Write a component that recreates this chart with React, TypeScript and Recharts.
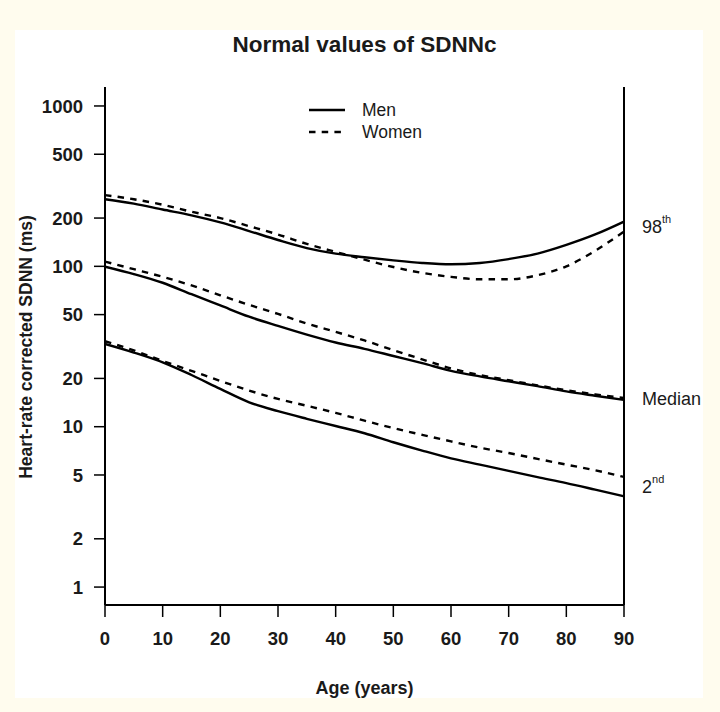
import { LineChart, Line, XAxis, YAxis, Legend } from "recharts";

const ages = [0, 5, 10, 15, 20, 25, 30, 35, 40, 45, 50, 55, 60, 65, 70, 75, 80, 85, 90];

// SDNNc percentiles (ms)
const men98 = [262, 246, 226, 208, 188, 166, 146, 130, 120, 114, 109, 105, 103, 105, 111, 120, 136, 158, 190];
const women98 = [278, 262, 242, 219, 200, 178, 158, 138, 123, 110, 99, 91, 86, 83, 83, 88, 100, 125, 165];
const menMedian = [99.5, 89.5, 79, 67, 57, 48.5, 42.5, 37.5, 33.5, 30.6, 27.6, 24.9, 22.3, 20.6, 19.2, 17.9, 16.6, 15.6, 14.7];
const womenMedian = [107, 96, 86, 76, 66, 57.5, 50.5, 44, 39, 34.5, 30, 26.3, 23.1, 21, 19.5, 18.1, 16.9, 15.9, 15.1];
const men2 = [32.8, 29, 25.2, 21, 17.2, 14.2, 12.5, 11.2, 10.1, 9.1, 8.0, 7.1, 6.35, 5.8, 5.3, 4.85, 4.45, 4.05, 3.68];
const women2 = [34.1, 29.9, 25.7, 22.3, 19.3, 16.8, 14.9, 13.5, 12.2, 10.9, 9.8, 8.9, 8.1, 7.4, 6.85, 6.3, 5.8, 5.35, 4.86];

const xTicks = [0, 10, 20, 30, 40, 50, 60, 70, 80, 90];
const yTicks = [1, 2, 5, 10, 20, 50, 100, 200, 500, 1000];
const percentileNames = ["98", "Median", "2"];
const percentileSups = ["th", "", "nd"];
const legendNames = ["Men", "Women"];

const DASH = "6.5 6.2";
const FONT = "'Liberation Sans', Arial, sans-serif";
const INK = "#1a1a1a";
const Y_DOMAIN = [0.773, 1313];

const data = ages.map((age, i) => ({
  age,
  men98: men98[i],
  women98: women98[i],
  menMedian: menMedian[i],
  womenMedian: womenMedian[i],
  men2: men2[i],
  women2: women2[i],
}));

// right-hand labels sit between the men's and women's curve ends
const last = ages.length - 1;
const menEnds = [men98[last], menMedian[last], men2[last]];
const womenEnds = [women98[last], womenMedian[last], women2[last]];
const labelTicks = menEnds.map((m, i) => Math.sqrt(m * womenEnds[i]));

const series = [
  { key: "men98", dash: undefined },
  { key: "women98", dash: DASH },
  { key: "menMedian", dash: undefined },
  { key: "womenMedian", dash: DASH },
  { key: "men2", dash: undefined },
  { key: "women2", dash: DASH },
];

function PercentileTick(props: any) {
  const { x, y, payload } = props;
  const i = labelTicks.findIndex((v) => Math.abs(v - payload.value) < 1e-6);
  if (i < 0) return null;
  return (
    <text x={x} y={y} dy="0.36em" textAnchor="start" fontFamily={FONT} fontSize={18} fill={INK}>
      {percentileNames[i]}
      {percentileSups[i] && (
        <tspan fontSize={11} dy="-0.9em">
          {percentileSups[i]}
        </tspan>
      )}
    </text>
  );
}

function LegendBox() {
  return (
    <svg width={140} height={50}>
      {legendNames.map((name, i) => (
        <g key={name}>
          <line
            x1={4}
            x2={40}
            y1={12 + i * 22}
            y2={12 + i * 22}
            stroke="#000"
            strokeWidth={2.6}
            strokeDasharray={i === 1 ? DASH : undefined}
          />
          <text x={57} y={12 + i * 22} dy="0.36em" fontFamily={FONT} fontSize={17.5} fill={INK}>
            {name}
          </text>
        </g>
      ))}
    </svg>
  );
}

const tickStyle = { fontFamily: FONT, fontSize: 18.5, fontWeight: 700, fill: INK };

export default function App() {
  return (
    <div style={{ position: "absolute", left: 0, top: 0, width: 720, height: 712, background: "#fffcee" }}>
      <div style={{ position: "absolute", left: 15, top: 30, width: 688, height: 668, background: "#fff" }} />
      <svg width={720} height={712} style={{ position: "absolute", left: 0, top: 0 }}>
        <text x={364.5} y={52} textAnchor="middle" fontFamily={FONT} fontWeight={700} fontSize={22.5} fill={INK}>
          Normal values of SDNNc
        </text>
        <text
          x={26}
          y={347}
          transform="rotate(-90 26 347)"
          textAnchor="middle"
          dy="0.36em"
          fontFamily={FONT}
          fontWeight={700}
          fontSize={17.5}
          fill={INK}
        >
          Heart-rate corrected SDNN (ms)
        </text>
        <text x={364.5} y={688} dy="0.36em" textAnchor="middle" fontFamily={FONT} fontWeight={700} fontSize={18} fill={INK}>
          Age (years)
        </text>
      </svg>
      <div style={{ position: "absolute", left: 0, top: 0 }}>
        <LineChart width={720} height={712} data={data} margin={{ top: 87, right: 16, bottom: 67, left: 45 }}>
          <XAxis
            dataKey="age"
            type="number"
            domain={[0, 90]}
            ticks={xTicks}
            allowDataOverflow
            height={40}
            tickSize={12}
            tickMargin={15}
            tick={tickStyle}
            axisLine={{ stroke: "#000", strokeWidth: 2 }}
            tickLine={{ stroke: "#000", strokeWidth: 1.5 }}
          />
          <XAxis
            xAxisId="top"
            orientation="top"
            dataKey="age"
            type="number"
            domain={[0, 90]}
            allowDataOverflow
            height={0}
            tick={false}
            tickLine={false}
            axisLine={{ stroke: "#000", strokeWidth: 2 }}
          />
          <YAxis
            scale="log"
            type="number"
            domain={Y_DOMAIN}
            allowDataOverflow
            ticks={yTicks}
            width={60}
            tickSize={11}
            tickMargin={11}
            tick={tickStyle}
            axisLine={{ stroke: "#000", strokeWidth: 2 }}
            tickLine={{ stroke: "#000", strokeWidth: 1.5 }}
          />
          <YAxis
            yAxisId="right"
            orientation="right"
            scale="log"
            type="number"
            domain={Y_DOMAIN}
            allowDataOverflow
            ticks={labelTicks}
            width={80}
            tickLine={false}
            tickMargin={12}
            tick={<PercentileTick />}
            axisLine={{ stroke: "#000", strokeWidth: 2 }}
          />
          <Legend
            layout="vertical"
            align="center"
            verticalAlign="middle"
            content={() => <LegendBox />}
            wrapperStyle={{ left: 305, top: 98, width: 140, height: 50 }}
          />
          {series.map((s) => (
            <Line
              key={s.key}
              dataKey={s.key}
              type="monotone"
              stroke="#000"
              strokeWidth={2.4}
              strokeDasharray={s.dash}
              dot={false}
              activeDot={false}
              legendType="none"
              isAnimationActive={false}
            />
          ))}
        </LineChart>
      </div>
    </div>
  );
}
